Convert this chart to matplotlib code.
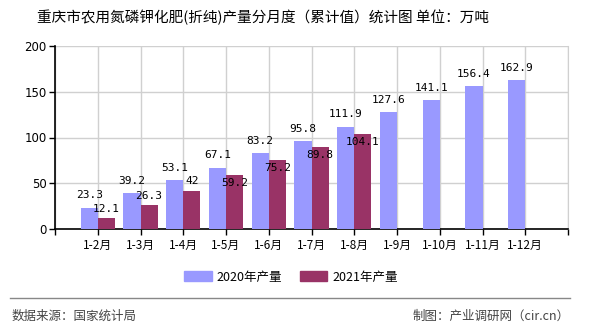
import matplotlib
matplotlib.use("Agg")
import matplotlib.pyplot as plt
import numpy as np
from matplotlib.lines import Line2D
from matplotlib.patches import Patch

plt.rcParams["font.family"] = ["Noto Sans CJK SC", "DejaVu Sans"]

months = ["1-2月", "1-3月", "1-4月", "1-5月", "1-6月", "1-7月",
          "1-8月", "1-9月", "1-10月", "1-11月", "1-12月"]
output_2020 = [23.3, 39.2, 53.1, 67.1, 83.2, 95.8, 111.9, 127.6, 141.1, 156.4, 162.9]
output_2021 = [12.1, 26.3, 42, 59.2, 75.2, 89.8, 104.1]
y_ticks = [0, 50, 100, 150, 200]

c2020 = "#9999ff"
c2021 = "#993366"
grid_c = "#d0d0d0"

fig = plt.figure(figsize=(5.9, 3.3), dpi=100)
ax = fig.add_axes([55 / 590, 1 - 229 / 330, 513 / 590, 183 / 330])

x = np.arange(1, len(months) + 1)
x21 = x[:len(output_2021)]
w = 0.4

ax.bar(x - w / 2, output_2020, width=w, color=c2020, zorder=3)
ax.bar(x21 + w / 2, output_2021, width=w, color=c2021, zorder=3)

lbl = dict(ha="center", va="center", fontsize=8, family="DejaVu Sans Mono",
           color="black", zorder=5)
for xi, v in zip(x, output_2020):
    ax.text(xi - w / 2, v + 13.5, f"{v:g}", **lbl)
for xi, v in zip(x21, output_2021):
    # small bars get the value above, taller ones just under the top
    dy = 10 if v < 50 else -9
    ax.text(xi + w / 2, v + dy, f"{v:g}", **lbl)

ax.set_xlim(0, len(months) + 1)
ax.set_ylim(0, 200)
ax.set_xticks(np.arange(0, len(months) + 2))
ax.set_xticklabels([""] + months + [""], fontsize=8.5)
ax.set_yticks(y_ticks)
ax.set_yticklabels([str(t) for t in y_ticks], fontsize=8.5, family="DejaVu Sans")
ax.tick_params(axis="both", length=4, width=1, colors="black", pad=2)
ax.tick_params(axis="x", pad=3)

ax.grid(True, color=grid_c, linewidth=1, zorder=0)
ax.set_axisbelow(True)
ax.spines["top"].set_visible(False)
ax.spines["right"].set_color(grid_c)
ax.spines["left"].set_linewidth(1.2)
ax.spines["bottom"].set_linewidth(1.2)

fig.text(263 / 590, 1 - 17 / 330,
         "重庆市农用氮磷钾化肥(折纯)产量分月度（累计值）统计图 单位：万吨",
         ha="center", va="center", fontsize=10.5, fontweight="medium")

handles = [Patch(color=c2020, label="2020年产量"),
           Patch(color=c2021, label="2021年产量")]
fig.legend(handles=handles, loc="center", bbox_to_anchor=(291 / 590, 1 - 277 / 330),
           ncol=2, frameon=False, fontsize=9, handlelength=2.2, handleheight=0.8,
           handletextpad=0.4, columnspacing=1.4)

fig.add_artist(Line2D([10 / 590, 570 / 590], [1 - 298 / 330] * 2, color="#888888",
                      linewidth=1, transform=fig.transFigure))

fig.text(12 / 590, 1 - 316 / 330, "数据来源：国家统计局", ha="left", va="center",
         fontsize=9, color="#444444")
fig.text(570 / 590, 1 - 316 / 330, "制图：产业调研网（cir.cn）", ha="right", va="center",
         fontsize=9, color="#444444")

fig.savefig("out.png", dpi=100)
plt.close(fig)
